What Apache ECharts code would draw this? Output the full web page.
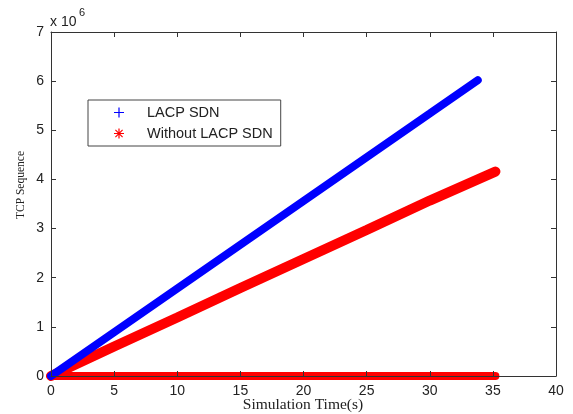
<!DOCTYPE html>
<html>
<head>
<meta charset="utf-8">
<script src="https://cdn.jsdelivr.net/npm/echarts@6/dist/echarts.min.js"></script>
<style>
  html, body { margin: 0; padding: 0; background: #fff; }
  #chart { width: 573px; height: 414px; }
</style>
</head>
<body>
<div id="chart"></div>
<script>
// values (time in s, sequence number)
var lacpTime = [0, 5, 10, 15, 20, 25, 30, 33.8]
var lacpSeq = [0, 0.89e6, 1.78e6, 2.67e6, 3.56e6, 4.45e6, 5.34e6, 6.02e6]
var plainTime = [0, 5, 10, 15, 20, 25, 30, 35.2]
var plainSeq = [0, 0.60e6, 1.19e6, 1.79e6, 2.38e6, 2.97e6, 3.57e6, 4.16e6]
var ackTime = [0, 35.2]
var ackSeq = [0, 0]
var xTicks = [0, 5, 10, 15, 20, 25, 30, 35, 40]
var yTicks = [0, 1, 2, 3, 4, 5, 6, 7] // x 10^6

function pairs(xs, ys) {
  return xs.map(function(x, i) { return [x, ys[i]] })
}

var plusIcon = 'path://M4.4,0H5.6V10H4.4Z M0,4.4H10V5.6H0Z'
var starIcon = 'path://M4.4,0H5.6V10H4.4Z M0,4.4H10V5.6H0Z M1,1.8L1.8,1L9,8.2L8.2,9Z M8.2,1L9,1.8L1.8,9L1,8.2Z'

var chart = echarts.init(document.getElementById('chart'))

var tickFont = { fontFamily: 'Liberation Sans, Arial, sans-serif', fontSize: 14, color: '#222' }

chart.setOption({
  animation: false,
  backgroundColor: '#fff',
  grid: { left: 51, right: 17, top: 32, bottom: 38, outerBoundsMode: 'none', containLabel: false },
  legend: {
    orient: 'vertical',
    left: 88,
    top: 100,
    padding: [5, 8, 5, 26],
    backgroundColor: '#fff',
    borderColor: '#444',
    borderWidth: 1,
    itemWidth: 10,
    itemHeight: 12,
    itemGap: 6,
    textStyle: {
      fontFamily: 'Liberation Sans, Arial, sans-serif',
      fontSize: 14.5,
      color: '#222',
      lineHeight: 12,
      padding: [0, 0, 0, 18]
    },
    data: [
      { name: 'LACP SDN', icon: plusIcon, itemStyle: { color: '#0000ff' } },
      { name: 'Without LACP SDN', icon: starIcon, itemStyle: { color: '#ff0000' } }
    ]
  },
  xAxis: [{
    type: 'value',
    min: 0,
    max: 40,
    interval: 5,
    z: 10,
    axisLine: { onZero: false, lineStyle: { color: '#333', width: 1 } },
    axisTick: { inside: true, length: 5, lineStyle: { color: '#333' } },
    axisLabel: Object.assign({ margin: 8, formatter: function(v) { return xTicks.indexOf(v) >= 0 ? v : '' } }, tickFont),
    splitLine: { show: false }
  }, {
    type: 'value',
    position: 'top',
    min: 0,
    max: 40,
    interval: 5,
    z: 10,
    axisLine: { onZero: false, lineStyle: { color: '#333', width: 1 } },
    axisTick: { inside: true, length: 5, lineStyle: { color: '#333' } },
    axisLabel: { show: false },
    splitLine: { show: false }
  }],
  yAxis: [{
    type: 'value',
    min: 0,
    max: 7e6,
    interval: 1e6,
    z: 10,
    axisLine: { show: true, onZero: false, lineStyle: { color: '#333', width: 1 } },
    axisTick: { show: true, inside: true, length: 5, lineStyle: { color: '#333' } },
    axisLabel: Object.assign({ margin: 7, formatter: function(v) { return yTicks[Math.round(v / 1e6)] } }, tickFont),
    splitLine: { show: false }
  }, {
    type: 'value',
    position: 'right',
    min: 0,
    max: 7e6,
    interval: 1e6,
    z: 10,
    axisLine: { show: true, onZero: false, lineStyle: { color: '#333', width: 1 } },
    axisTick: { show: true, inside: true, length: 5, lineStyle: { color: '#333' } },
    axisLabel: { show: false },
    splitLine: { show: false }
  }],
  graphic: [
    {
      type: 'text',
      left: 50,
      top: 15,
      style: { text: 'x 10', font: '14px "Liberation Sans", Arial, sans-serif', fill: '#222' }
    },
    {
      type: 'text',
      left: 79,
      top: 7,
      style: { text: '6', font: '11px "Liberation Sans", Arial, sans-serif', fill: '#222' }
    },
    {
      type: 'text',
      x: 303,
      y: 405,
      style: {
        text: 'Simulation Time(s)',
        font: '15.5px "Liberation Serif", "Times New Roman", serif',
        fill: '#222',
        align: 'center',
        verticalAlign: 'middle'
      }
    },
    {
      type: 'text',
      x: 21,
      y: 185,
      rotation: Math.PI / 2,
      style: {
        text: 'TCP Sequence',
        font: '11.5px "Liberation Serif", "Times New Roman", serif',
        fill: '#222',
        align: 'center',
        verticalAlign: 'middle'
      }
    }
  ],
  series: [
    {
      name: 'Without LACP SDN',
      type: 'line',
      clip: false,
      showSymbol: false,
      symbol: 'none',
      data: pairs(ackTime, ackSeq),
      lineStyle: { color: '#ff0000', width: 8, cap: 'round' },
      itemStyle: { color: '#ff0000' }
    },
    {
      name: 'Without LACP SDN',
      type: 'line',
      clip: false,
      showSymbol: false,
      symbol: 'none',
      data: pairs(plainTime, plainSeq),
      lineStyle: { color: '#ff0000', width: 10, cap: 'round' },
      itemStyle: { color: '#ff0000' }
    },
    {
      name: 'LACP SDN',
      type: 'line',
      clip: false,
      showSymbol: false,
      symbol: 'none',
      data: pairs(lacpTime, lacpSeq),
      lineStyle: { color: '#0000ff', width: 8, cap: 'round' },
      itemStyle: { color: '#0000ff' }
    }
  ]
})
</script>
</body>
</html>
